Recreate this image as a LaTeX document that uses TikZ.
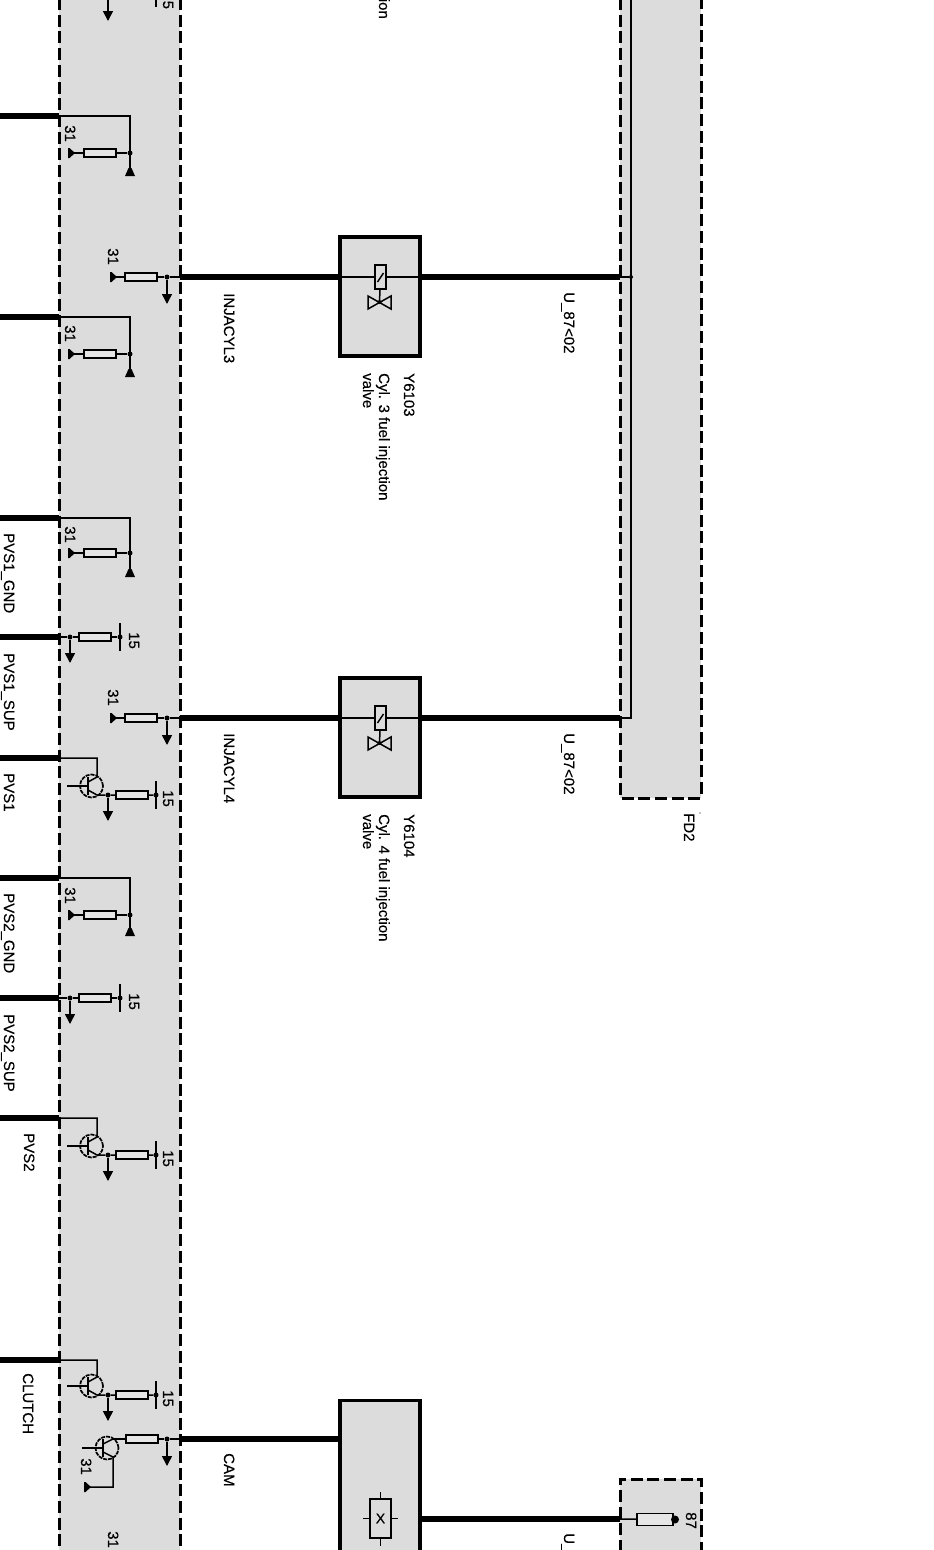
\documentclass[tikz,border=0pt]{standalone}
\usepackage{fontspec}
\setmainfont{Liberation Sans}[FakeBold=0.25]
\usetikzlibrary{arrows.meta}
\definecolor{bandgrey}{HTML}{DCDCDC}
\definecolor{resfill}{HTML}{E6E6E6}
\tikzset{
  band/.style={fill=bandgrey,draw=none},
  dashline/.style={line width=3pt,dash pattern=on 12pt off 4.7pt,dash phase=2pt},
  wthick/.style={line width=5.6pt},
  wthin/.style={line width=1.5pt},
  res/.style={draw,line width=1.5pt,fill=resfill,inner sep=0pt,minimum width=32pt,minimum height=8pt},
  dotn/.style={circle,fill=black,inner sep=0pt,minimum size=5pt},
  compbox/.style={draw,line width=3.2pt,fill=bandgrey,inner sep=0pt,minimum width=80pt},
  lbl/.style={rotate=-90,anchor=base west,inner sep=0pt,yshift=1pt,font=\fontsize{15}{16}\selectfont},
  downarrow/.style={wthin,-{Triangle[length=10pt,width=10pt]}},
  trcircle/.style={circle,draw,line width=1.7pt,dash pattern=on 4pt off 1pt,inner sep=0pt,minimum size=23pt},
}
% left-facing earth tip
\newcommand{\eartip}[2]{\fill[shift={(#1,#2)}] (0,-5) -- (0,5) -- (1.5,5) -- (7,0) -- (1.5,-5) -- cycle;}
% name, wire y, resistor y, earth y, "31" y
\newcommand{\gndtap}[5]{
  \coordinate (#1w) at (0,#2);
  \coordinate (#1p) at (59,#2);
  \coordinate (#1c) at (130,#2);
  \coordinate (#1g) at (130,#4);
  \coordinate (#1t) at (68,#3);
  \node[res] (#1r) at (100,#3) {};
  \node[dotn] (#1j) at (130,#3) {};
  \draw[wthick] (#1w) -- (#1p);
  \draw[wthin] (#1p) -- (#1c) -- (#1g);
  \draw[wthin] (#1t) -- (#1r) -- (#1j);
  \eartip{68}{#3}
  \fill[shift={(130,#4)}] (-1.5,-7) -- (1.5,-7) -- (5,1) -- (-5,1) -- cycle;
  \node[lbl] (#1n) at (64,#5) {31};
}
% name, wire y
\newcommand{\suptap}[2]{
  \coordinate (#1w) at (0,#2);
  \coordinate (#1p) at (59,#2);
  \node[dotn] (#1d) at (70,#2) {};
  \node[res] (#1r) at (95,#2) {};
  \node[dotn] (#1j) at (120,#2) {};
  \coordinate (#1a) at (70,#2+26);
  \coordinate (#1u) at (120,#2-14);
  \coordinate (#1v) at (120,#2+14);
  \draw[wthick] (#1w) -- (#1p);
  \draw[wthin] (#1p) -- (#1d) -- (#1r) -- (#1j);
  \draw[wthin] (#1u) -- (#1v);
  \draw[downarrow] (#1d) -- (#1a);
  \node[lbl] (#1n) at (128,#2-5) {15};
}
% name, wire y
\newcommand{\injtap}[2]{
  \coordinate (#1o) at (180,#2);
  \coordinate (#1t) at (110,#2);
  \node[res] (#1r) at (141,#2) {};
  \node[dotn] (#1j) at (167,#2) {};
  \coordinate (#1a) at (167,#2+27);
  \draw[wthin] (#1t) -- (#1r) -- (#1j) -- (#1o);
  \draw[downarrow] (#1j) -- (#1a);
  \eartip{110}{#2}
  \node[lbl] (#1n) at (107,#2-29) {31};
}
% name, wire y, transistor centre y
\newcommand{\drvtap}[3]{
  \coordinate (#1w) at (0,#2);
  \coordinate (#1p) at (59,#2);
  \coordinate (#1c) at (97,#2);
  \coordinate (#1k) at (97,#3-9);
  \coordinate (#1e) at (97,#3+9);
  \coordinate (#1b) at (67,#3);
  \coordinate (#1h) at (88,#3);
  \node[trcircle] (#1q) at (91.5,#3) {};
  \node[dotn] (#1d) at (108,#3+9) {};
  \node[res] (#1r) at (132,#3+9) {};
  \node[dotn] (#1j) at (156,#3+9) {};
  \coordinate (#1a) at (108,#3+35);
  \coordinate (#1u) at (156,#3-5);
  \coordinate (#1v) at (156,#3+23);
  \draw[wthick] (#1w) -- (#1p);
  \draw[wthin] (#1p) -- (#1c) -- (#1k) -- (88,#3-4);
  \draw[wthin] (#1b) -- (#1h);
  \draw[wthin] (88,#3-9) -- (88,#3+9);
  \draw[wthin] (88,#3+4) -- (#1e) -- (#1d) -- (#1r) -- (#1j);
  \draw[wthin] (#1u) -- (#1v);
  \draw[downarrow] (#1d) -- (#1a);
  \node[lbl] (#1n) at (162,#3+4) {15};
}
% name, wire y, cylinder number, code
\newcommand{\valvecomp}[4]{
  \node[compbox,minimum height=119pt] (#1box) at (380,#2+19.5) {};
  \node[draw,line width=1.5pt,fill=bandgrey,inner sep=0pt,minimum width=11pt,minimum height=24pt] (#1coil) at (380.5,#2) {};
  \coordinate (#1l) at (340,#2);
  \coordinate (#1m) at (420,#2);
  \coordinate (#1e) at (620,#2);
  \coordinate (#1s) at (380,#2+25);
  \node[dotn,minimum size=4pt] (#1v) at (379.5,#2+25) {};
  \draw[wthin] (#1l) -- (#1coil) -- (#1m);
  \draw[wthin] (377.5,#2+5) -- (383.5,#2-4);
  \draw[wthin] (#1coil) -- (#1v);
  \draw[wthin] (368,#2+19) -- (391,#2+32) -- (391,#2+19) -- (368,#2+32) -- cycle;
  \draw[wthick] (#1m) -- (#1e);
  \node[lbl] (#1a) at (403,#2+96) {#4};
  \node[lbl] (#1b) at (378,#2+96) {Cyl. #3 fuel injection};
  \node[lbl] (#1c) at (362,#2+96) {valve};
  \node[lbl] (#1d) at (563,#2+15) {U\_87<02};
}
\begin{document}
\begin{tikzpicture}[x=1pt,y=-1pt]
\clip (0,0) rectangle (934,1550);
\fill[white] (0,0) rectangle (934,1550);
% grey modules
\path[band] (59,0) rectangle (180,1550);
\path[band] (620,0) rectangle (701,798);
\path[band] (620,1479) rectangle (701,1550);
\draw[dashline] (59,0) -- (59,1550);
\draw[dashline] (180,0) -- (180,1550);
\draw[dashline] (620,0) -- (620,798) -- (701,798) -- (701,0);
\draw[dashline] (620,1550) -- (620,1479) -- (701,1479) -- (701,1550);
% top fragments
\coordinate (topa) at (108,0);
\coordinate (topb) at (108,21);
\draw[downarrow] (topa) -- (topb);
\coordinate (topc) at (156,0);
\coordinate (topd) at (156,7);
\draw[wthin] (topc) -- (topd);
\node[lbl] (topn) at (162,0.5) {5};
\node[rotate=-90,anchor=base east,inner sep=0pt,yshift=1pt,font=\fontsize{15}{16}\selectfont] (topt) at (378,19) {ion};
% ECU taps
\gndtap{a}{116}{153}{175}{125}
\gndtap{b}{317}{354}{376}{325}
\gndtap{c}{518}{553}{576}{526}
\gndtap{d}{878}{915}{935}{887}
\suptap{e}{637}
\suptap{f}{998}
\drvtap{g}{758}{786}
\drvtap{h}{1118}{1146}
\drvtap{i}{1360}{1386}
\injtap{j}{277}
\injtap{k}{718}
% valves
\draw[wthick] (jo) -- (340,277);
\draw[wthick] (ko) -- (340,718);
\valvecomp{m}{277}{3}{Y6103}
\valvecomp{n}{718}{4}{Y6104}
% supply rail
\coordinate (railt) at (631,0);
\node[dotn,minimum size=4pt] (railj) at (631,277) {};
\coordinate (railb) at (631,718);
\draw[wthin] (railt) -- (railb) -- (ne);
\draw[wthin] (me) -- (railj);
% CAM
\node[compbox,minimum height=200pt,anchor=north] (camb) at (380,1399) {};
\node[res,minimum width=32pt] (camr) at (142,1439) {};
\node[dotn] (camj) at (167,1439) {};
\coordinate (camo) at (180,1439);
\coordinate (cama) at (167,1466);
\coordinate (camb2) at (340,1439);
\draw[wthick] (camo) -- (camb2);
\draw[wthin] (113,1439) -- (camr) -- (camj) -- (camo);
\draw[downarrow] (camj) -- (cama);
\node[trcircle] (camq) at (107,1448) {};
\coordinate (cambs) at (82,1448);
\coordinate (cambh) at (103,1448);
\coordinate (camt) at (84,1487);
\draw[wthin] (cambs) -- (cambh);
\draw[wthin] (103,1439) -- (103,1457);
\draw[wthin] (103,1444) -- (113,1439);
\draw[wthin] (103,1452) -- (113,1457) -- (113,1487) -- (camt);
\eartip{84}{1487}
\node[lbl] (camn) at (80,1458) {31};
\node[lbl] (botn) at (107,1531) {31};
% CAM sensor symbol
\node[draw,line width=1.5pt,fill=bandgrey,inner sep=0pt,minimum width=21pt,minimum height=39pt,font=\fontsize{14}{14}\selectfont] (camx) at (380.5,1518.5) {X};
\draw[wthin] (camx.west) -- ++(-6,0);
\draw[wthin] (camx.east) -- ++(6,0);
\draw[wthin] (camx.north) -- ++(0,-6);
\draw[wthin] (camx.south) -- ++(0,7);
\coordinate (camc) at (420,1519);
\coordinate (camd) at (620,1519);
\draw[wthick] (camc) -- (camd);
% fuse
\node[draw,line width=1.5pt,fill=resfill,inner sep=0pt,minimum width=36pt,minimum height=12pt] (fuse) at (655,1519.5) {};
\node[circle,fill=black,inner sep=0pt,minimum size=8pt] (fusej) at (675,1519.5) {};
\draw[wthin] (camd) -- (fuse);
\draw[wthin] (fuse) -- (fusej);
% labels
\node[lbl] (l1) at (223,293) {INJACYL3};
\node[lbl] (l2) at (223,733) {INJACYL4};
\node[lbl] (l3) at (223,1453) {CAM};
\node[lbl] (l4) at (3,533) {PVS1\_GND};
\node[lbl] (l5) at (3,653) {PVS1\_SUP};
\node[lbl] (l6) at (3,773) {PVS1};
\node[lbl] (l7) at (3,893) {PVS2\_GND};
\node[lbl] (l8) at (3,1014) {PVS2\_SUP};
\node[lbl] (l9) at (23,1133) {PVS2};
\node[lbl] (l10) at (22,1373) {CLUTCH};
\node[lbl] (l11) at (683,813) {FD2};
\fill (700,813) circle (0.7);
\node[lbl] (l12) at (685,1512) {87};
\node[lbl] (l13) at (563,1533) {U\_};
\end{tikzpicture}
\end{document}
